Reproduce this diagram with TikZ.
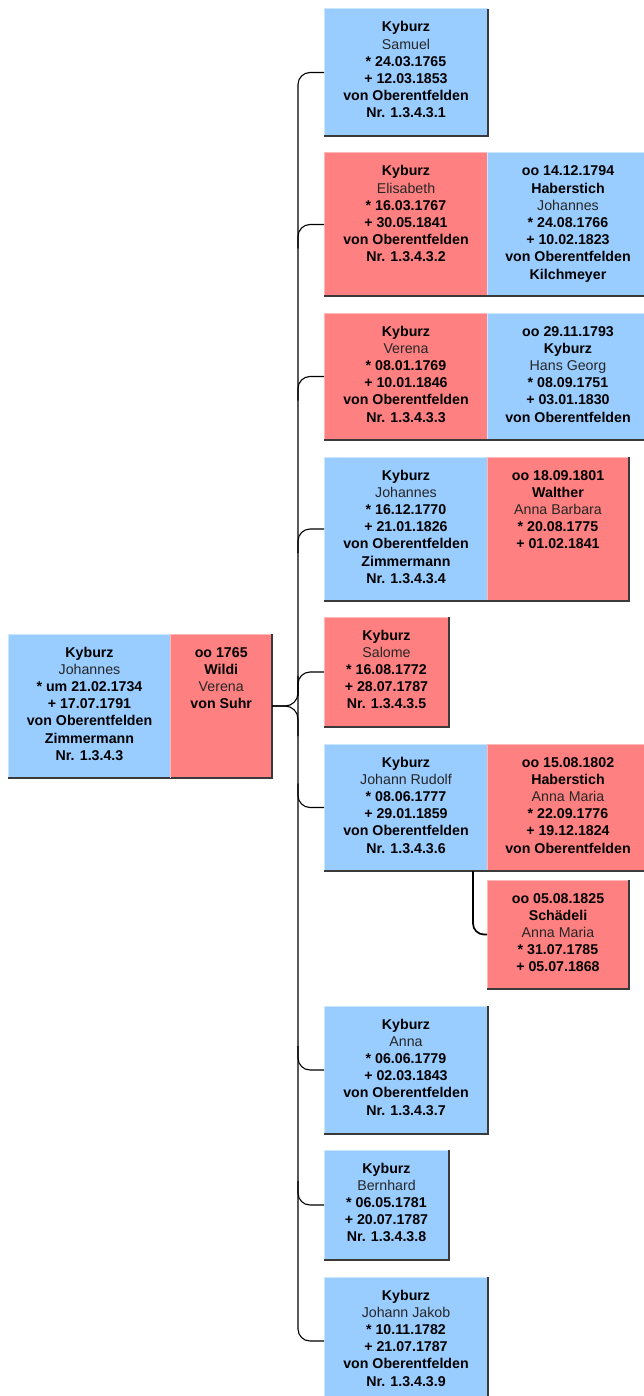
\documentclass[tikz,border=0pt]{standalone}
\usepackage{fontspec}
\setmainfont{Liberation Sans}
\usetikzlibrary{calc}
\definecolor{mblue}{HTML}{99CCFF}
\definecolor{fred}{HTML}{FF8080}
\definecolor{mbluelt}{HTML}{CCE6FF}
\definecolor{fredlt}{HTML}{FFB8B8}
\definecolor{shade}{HTML}{3A3A3A}
\definecolor{namegray}{HTML}{262626}
\newcommand{\nm}[1]{{\mdseries\color{namegray}#1}}
\newcommand{\person}[7]{%
  \node[pbox,fill=#6] (#1) at (#2,#3) {\parbox[t][#5pt][t]{#4pt}{\centering\rule{0pt}{23pt}#7\par}};
  \draw[lightedge,draw=#6lt] (#1.south west) -- (#1.north west) -- (#1.north east);
  \draw[darkedge] (#1.north east) -- (#1.south east) -- (#1.south west);}
\tikzset{
  pbox/.style={inner sep=0pt,outer sep=0pt,anchor=north west,
    font=\fontsize{14.2pt}{17.2pt}\selectfont\bfseries},
  lightedge/.style={line width=1pt},
  darkedge/.style={line width=1.3pt,draw=shade},
  conn/.style={line width=1.1pt,draw=black},
  conn2/.style={line width=1.7pt,draw=black}
}
\begin{document}
\begin{tikzpicture}[x=1pt,y=-1pt]
\useasboundingbox (0,0) rectangle (644,1396);
\fill[white] (0,0) rectangle (644,1396);
\person{root}{8}{634}{163}{144}{mblue}{Kyburz\par\nm{Johannes}\par* um 21.02.1734\par+ 17.07.1791\par von Oberentfelden\par Zimmermann\par Nr. 1.3.4.3}
\person{rootsp}{170.5}{634}{101.5}{144}{fred}{oo 1765\par Wildi\par\nm{Verena}\par von Suhr}
\person{c1}{324}{9}{164}{127}{mblue}{Kyburz\par\nm{Samuel}\par* 24.03.1765\par+ 12.03.1853\par von Oberentfelden\par Nr. 1.3.4.3.1}
\person{c2}{324}{153}{164}{143}{fred}{Kyburz\par\nm{Elisabeth}\par* 16.03.1767\par+ 30.05.1841\par von Oberentfelden\par Nr. 1.3.4.3.2}
\person{s2}{487}{153}{162}{143}{mblue}{oo 14.12.1794\par Haberstich\par\nm{Johannes}\par* 24.08.1766\par+ 10.02.1823\par von Oberentfelden\par Kilchmeyer}
\person{c3}{324}{313}{164}{127}{fred}{Kyburz\par\nm{Verena}\par* 08.01.1769\par+ 10.01.1846\par von Oberentfelden\par Nr. 1.3.4.3.3}
\person{s3}{487}{313}{162}{127}{mblue}{oo 29.11.1793\par Kyburz\par\nm{Hans Georg}\par* 08.09.1751\par+ 03.01.1830\par von Oberentfelden}
\person{c4}{324}{457}{164}{144}{mblue}{Kyburz\par\nm{Johannes}\par* 16.12.1770\par+ 21.01.1826\par von Oberentfelden\par Zimmermann\par Nr. 1.3.4.3.4}
\person{s4}{487}{457}{142}{144}{fred}{oo 18.09.1801\par Walther\par\nm{Anna Barbara}\par* 20.08.1775\par+ 01.02.1841}
\person{c5}{324}{617}{125}{110}{fred}{Kyburz\par\nm{Salome}\par* 16.08.1772\par+ 28.07.1787\par Nr. 1.3.4.3.5}
\person{c6}{324}{744}{164}{127}{mblue}{Kyburz\par\nm{Johann Rudolf}\par* 08.06.1777\par+ 29.01.1859\par von Oberentfelden\par Nr. 1.3.4.3.6}
\person{s6}{487}{744}{162}{127}{fred}{oo 15.08.1802\par Haberstich\par\nm{Anna Maria}\par* 22.09.1776\par+ 19.12.1824\par von Oberentfelden}
\person{s6b}{487}{880}{142}{109}{fred}{oo 05.08.1825\par Schädeli\par\nm{Anna Maria}\par* 31.07.1785\par+ 05.07.1868}
\person{c7}{324}{1006}{164}{128}{mblue}{Kyburz\par\nm{Anna}\par* 06.06.1779\par+ 02.03.1843\par von Oberentfelden\par Nr. 1.3.4.3.7}
\person{c8}{324}{1150}{125}{110}{mblue}{Kyburz\par\nm{Bernhard}\par* 06.05.1781\par+ 20.07.1787\par Nr. 1.3.4.3.8}
\person{c9}{324}{1277}{164}{128}{mblue}{Kyburz\par\nm{Johann Jakob}\par* 10.11.1782\par+ 21.07.1787\par von Oberentfelden\par Nr. 1.3.4.3.9}
% connectors
\coordinate (busx) at (298,0);
\draw[conn, rounded corners=12pt] (c1.west) -- (c1.west -| busx) -- (c9.west -| busx) -- (c9.west);
\foreach \c in {c2,c3,c4,c5}
  \draw[conn, rounded corners=12pt] (\c.west) -- (\c.west -| busx) -- ($(\c.west -| busx)+(0,24)$);
\foreach \c in {c6,c7,c8}
  \draw[conn, rounded corners=12pt] (\c.west) -- (\c.west -| busx) -- ($(\c.west -| busx)+(0,-24)$);
\draw[conn, rounded corners=13pt] (rootsp.east) -- (rootsp.east -| busx) -- ($(rootsp.east -| busx)+(0,-30)$);
\draw[conn, rounded corners=13pt] (rootsp.east) -- (rootsp.east -| busx) -- ($(rootsp.east -| busx)+(0,30)$);
\coordinate (rs) at ($(c6.south west)+(149,0)$);
\draw[conn2, rounded corners=11pt] (rs) -- (rs |- s6b.west) -- (s6b.west);
\end{tikzpicture}
\end{document}
